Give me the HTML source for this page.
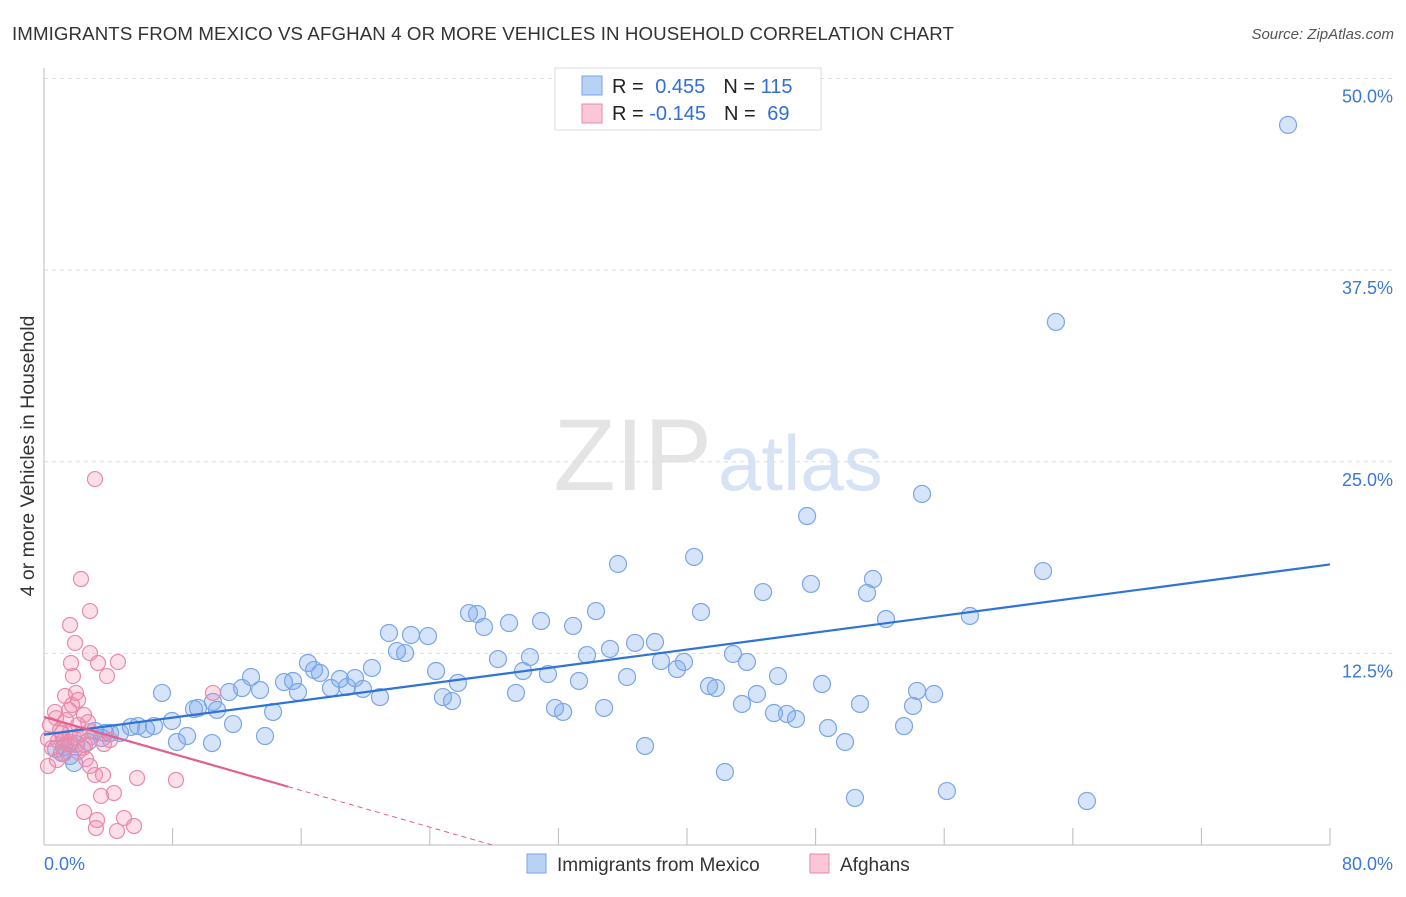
<!DOCTYPE html>
<html><head><meta charset="utf-8"><style>
body{margin:0;background:#fff;font-family:"Liberation Sans",sans-serif;}
svg text{font-family:"Liberation Sans",sans-serif;}
</style></head><body>
<svg width="1406" height="892" viewBox="0 0 1406 892">
<text x="12" y="40" font-size="18.7" fill="#333" letter-spacing="0.1">IMMIGRANTS FROM MEXICO VS AFGHAN 4 OR MORE VEHICLES IN HOUSEHOLD CORRELATION CHART</text>
<text x="1394" y="39" font-size="15" fill="#555" text-anchor="end" font-style="italic">Source: ZipAtlas.com</text>
<text x="712" y="490" font-size="102" fill="#e4e4e4" text-anchor="end" font-family="Liberation Serif,serif">ZIP</text>
<text x="718" y="490" font-size="78" fill="#d5e3f5">atlas</text>
<g id="grid"></g>
<g id="axes"></g>
<text transform="translate(34,456) rotate(-90)" font-size="19.5" fill="#333" text-anchor="middle">4 or more Vehicles in Household</text>
<g id="pts"></g>
<g id="lines"></g>
<g>
<rect x="555" y="68" width="266" height="62" fill="#fff" stroke="#ddd"/>
<rect x="582" y="76" width="20" height="19" fill="#b8d2f5" stroke="#7aa6e8"/>
<rect x="582" y="104" width="20" height="19" fill="#f9c7d6" stroke="#e88aaa"/>
<text x="612" y="93" font-size="20" fill="#222">R = <tspan fill="#2f6fd6" dx="6">0.455</tspan><tspan dx="18" fill="#222">N = </tspan><tspan fill="#2f6fd6">115</tspan></text>
<text x="612" y="120" font-size="20" fill="#222">R = <tspan fill="#2f6fd6">-0.145</tspan><tspan dx="18" fill="#222">N = </tspan><tspan fill="#2f6fd6" dx="6">69</tspan></text>
</g>
<g>
<rect x="527" y="854" width="19" height="19" fill="#b8d2f5" stroke="#7aa6e8"/>
<text x="557" y="871" font-size="19" fill="#333">Immigrants from Mexico</text>
<rect x="810" y="854" width="19" height="19" fill="#f9c7d6" stroke="#e88aaa"/>
<text x="840" y="871" font-size="19" fill="#333">Afghans</text>
</g>
</svg>
<script>
const yTicks=[12.5,25,37.5,50];
const xTickCount=10;
const blueRegStart=7.2, blueRegEnd=18.3;
const pinkRegStart=8.35, pinkRegEnd=3.8, pinkSolidEndX=15.2;
const bluePx=[[1288,125],[1056,322],[922,494],[807,516],[694,557],[618,564],[1043,571],[873,579],[811,584],[763,592],[867,593],[701,612],[596,611],[469,613],[477,614],[970,616],[886,619],[541,621],[509,623],[484,627],[573,626],[389,633],[411,635],[428,636],[655,642],[635,643],[610,649],[733,654],[397,651],[405,653],[587,655],[530,657],[498,659],[308,663],[684,662],[661,661],[747,662],[677,669],[523,671],[372,668],[314,670],[436,671],[548,674],[320,673],[251,677],[355,678],[340,679],[778,676],[284,682],[293,681],[458,683],[627,677],[579,681],[242,688],[260,690],[331,688],[347,687],[363,689],[298,692],[709,686],[716,688],[822,684],[162,693],[229,692],[917,691],[934,694],[516,693],[380,697],[443,697],[452,701],[757,694],[213,702],[198,708],[194,709],[217,710],[742,704],[913,706],[860,704],[555,708],[563,712],[604,708],[774,713],[787,714],[273,712],[172,721],[796,719],[233,724],[138,726],[154,726],[131,727],[146,729],[110,733],[120,733],[105,733],[95,731],[102,738],[828,728],[904,726],[187,736],[265,736],[177,742],[212,743],[88,742],[76,744],[70,743],[64,747],[56,749],[62,753],[70,756],[74,763],[645,746],[845,742],[725,772],[855,798],[947,791],[1087,801]];
const pinkPx=[[95,479],[81,579],[90,611],[70,625],[75,643],[90,653],[118,662],[71,663],[98,663],[73,676],[107,676],[65,696],[76,693],[213,693],[78,700],[72,705],[69,710],[55,712],[84,715],[56,718],[66,720],[88,722],[78,725],[50,725],[60,730],[70,732],[80,735],[92,737],[48,739],[58,741],[66,743],[85,745],[104,744],[52,748],[78,752],[86,759],[90,766],[95,775],[103,775],[137,778],[176,780],[114,793],[101,796],[84,812],[97,820],[124,818],[96,828],[117,831],[134,826],[48,766],[64,740],[70,745],[110,740],[90,731],[62,733],[74,738],[57,760],[83,748],[64,754]];
const blueX=bluePx.map(p=>+((p[0]-44)/16.075).toFixed(2));
const blueY=bluePx.map(p=>+((845-p[1])/15.33).toFixed(2));
const pinkX=pinkPx.map(p=>+((p[0]-44)/16.075).toFixed(2));
const pinkY=pinkPx.map(p=>+((845-p[1])/15.33).toFixed(2));
const NS="http://www.w3.org/2000/svg";
const X=v=>44+v*16.075, Y=v=>845-v*15.33;
function mk(t,a,parent){const e=document.createElementNS(NS,t);for(const k in a)e.setAttribute(k,a[k]);document.getElementById(parent).appendChild(e);return e;}
yTicks.forEach(t=>{
 const l=mk('line',{x1:44,x2:1394,y1:Y(t),y2:Y(t),stroke:'#ddd','stroke-dasharray':'4,4'},'grid');
 
 
 const tx=mk('text',{x:1393,y:Y(t)+24,'font-size':18,fill:'#3b78d8','text-anchor':'end'},'axes');
 tx.textContent=t.toFixed(1)+'%';
 
 
});
const ax=mk('line',{x1:44,x2:1330,y1:845,y2:845,stroke:'#bbb'},'axes');


const ay=mk('line',{x1:44,x2:44,y1:68,y2:845,stroke:'#bbb'},'axes');


for(let i=0;i<=xTickCount;i++){const v=i*8;const t=mk('line',{x1:X(v),x2:X(v),y1:828,y2:845,stroke:'#bbb'},'axes');
 
 }
[[0,'0.0%','start',44],[80,'80.0%','end',1393]].forEach(a=>{const t=mk('text',{x:a[3],y:870,'font-size':18,fill:'#3b78d8','text-anchor':a[2]},'axes');t.textContent=a[1];
 
 });
blueX.forEach((x,i)=>{const c=mk('circle',{cx:X(x),cy:Y(blueY[i]),r:8.5,fill:'rgba(120,165,235,0.3)',stroke:'#7aa6e8','stroke-width':1.2},'pts');
 
 });
pinkX.forEach((x,i)=>{const c=mk('circle',{cx:X(x),cy:Y(pinkY[i]),r:7.5,fill:'rgba(245,140,175,0.28)',stroke:'#e88aaa','stroke-width':1.2},'pts');
 
 });
const bl=mk('line',{x1:X(0),y1:Y(blueRegStart),x2:X(80),y2:Y(blueRegEnd),stroke:'#2f72d8','stroke-width':2.2},'lines');


const slope=(pinkRegEnd-pinkRegStart)/pinkSolidEndX;
const pl=mk('line',{x1:X(0),y1:Y(pinkRegStart),x2:X(pinkSolidEndX),y2:Y(pinkRegEnd),stroke:'#e0608f','stroke-width':2.2},'lines');


const xe=-pinkRegStart/slope;
const pd=mk('line',{x1:X(pinkSolidEndX),y1:Y(pinkRegEnd),x2:X(xe),y2:Y(0),stroke:'#e0608f','stroke-width':1,'stroke-dasharray':'5,4'},'lines');


</script>
</body></html>
